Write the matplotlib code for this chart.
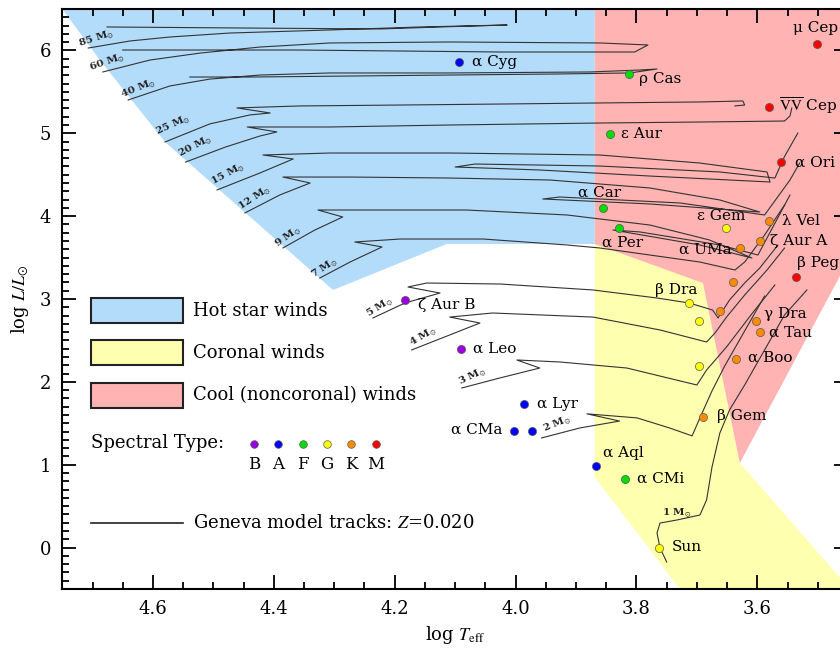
import matplotlib
matplotlib.use("Agg")
import matplotlib.pyplot as plt
from matplotlib.patches import Polygon, Rectangle
from matplotlib.lines import Line2D
from matplotlib.ticker import MultipleLocator, FormatStrFormatter

plt.rcParams['font.family'] = ['DejaVu Serif']
plt.rcParams['mathtext.fontset'] = 'stix'

# ---- wind regions: (log Teff, log L) polygon vertices
hot_T = [4.76, 4.688, 4.580, 4.302, 4.114, 3.869, 3.869]
hot_L = [6.60, 5.885, 4.895, 3.109, 3.664, 3.664, 6.60]
coronal_T = [3.869, 3.690, 3.629, 3.435, 3.718, 3.869]
coronal_L = [3.664, 3.193, 1.021, -0.60, -0.60, 0.852]
cool_T = [3.869, 3.869, 3.690, 3.629, 3.40, 3.40]
cool_L = [6.60, 3.664, 3.193, 1.021, 4.14, 6.60]

# ---- Geneva tracks (log Teff, log L)
track_mass = ["85", "60", "40", "25", "20", "15", "12", "9", "7", "5", "4", "3", "2", "1"]
t85_T = [4.707, 4.638, 4.572, 4.473, 4.307, 4.158, 4.014, 4.125, 4.224, 4.440, 4.676]
t85_L = [6.029, 6.114, 6.162, 6.210, 6.247, 6.283, 6.307, 6.283, 6.259, 6.270, 6.283]
t60_T = [4.683, 4.605, 4.522, 4.423, 4.307, 4.109, 3.861, 3.781, 3.803, 4.026, 4.191, 4.357, 4.522, 4.650]
t60_L = [5.740, 5.884, 5.968, 6.041, 6.090, 6.102, 6.090, 6.066, 5.981, 5.981, 5.993, 6.005, 6.005, 6.005]
t40_T = [4.641, 4.572, 4.506, 4.423, 4.307, 4.109, 3.877, 3.794, 3.766, 3.811, 3.927, 4.109, 4.274, 4.440, 4.539]
t40_L = [5.402, 5.571, 5.654, 5.703, 5.728, 5.728, 5.740, 5.764, 5.776, 5.728, 5.716, 5.703, 5.691, 5.679, 5.679]
t25_T = [4.580, 4.506, 4.440, 4.406, 4.461, 4.357, 4.191, 4.026, 3.861, 3.695, 3.624, 3.621, 3.637]
t25_L = [4.895, 5.113, 5.221, 5.245, 5.306, 5.330, 5.341, 5.353, 5.366, 5.378, 5.390, 5.341, 5.330]
t20_T = [4.546, 4.480, 4.423, 4.395, 4.444, 4.307, 4.109, 3.861, 3.695, 3.555, 3.546, 3.543]
t20_L = [4.653, 4.834, 4.967, 5.016, 5.076, 5.076, 5.100, 5.124, 5.136, 5.148, 5.209, 5.305]
t15_T = [4.494, 4.423, 4.368, 4.418, 4.307, 4.109, 3.861, 3.695, 3.584, 3.579, 3.778, 3.960,
         4.100, 4.067, 3.861, 3.662, 3.571, 3.555, 3.533]
t15_L = [4.316, 4.521, 4.690, 4.738, 4.762, 4.762, 4.738, 4.641, 4.533, 4.412, 4.484, 4.557,
         4.593, 4.629, 4.605, 4.533, 4.460, 4.720, 5.003]
t12_T = [4.448, 4.390, 4.340, 4.385, 4.274, 4.109, 3.943, 3.778, 3.662, 3.596, 3.778, 3.955,
         3.927, 3.728, 3.588, 3.546, 3.530]
t12_L = [4.038, 4.256, 4.400, 4.472, 4.472, 4.460, 4.436, 4.340, 4.195, 4.050, 4.147, 4.207,
         4.231, 4.159, 4.014, 4.436, 4.641]
t9_T = [4.385, 4.332, 4.286, 4.327, 4.246, 4.081, 3.915, 3.778, 3.679, 3.609, 3.695, 3.839,
        3.794, 3.662, 3.599, 3.546]
t9_L = [3.616, 3.833, 3.990, 4.074, 4.074, 4.074, 4.014, 3.893, 3.712, 3.495, 3.652, 3.833,
        3.809, 3.652, 3.531, 4.255]
t7_T = [4.324, 4.274, 4.221, 4.266, 4.191, 4.054, 3.915, 3.861, 3.778, 3.695, 3.637, 3.621, 3.588, 3.555]
t7_L = [3.253, 3.446, 3.628, 3.688, 3.724, 3.724, 3.652, 3.616, 3.531, 3.446, 3.350, 3.446, 3.772, 4.134]
t5_T = [4.236, 4.183, 4.125, 4.178, 4.147, 4.026, 3.872, 3.766, 3.713, 3.674, 3.665, 3.646,
        3.621, 3.596, 3.566]
t5_L = [2.771, 2.952, 3.072, 3.145, 3.193, 3.181, 3.109, 3.012, 2.952, 2.867, 2.771, 2.988,
        3.193, 3.374, 3.651]
t4_T = [4.172, 4.109, 4.059, 4.109, 4.038, 3.872, 3.761, 3.684, 3.670, 3.651, 3.621, 3.584, 3.555]
t4_L = [2.385, 2.566, 2.710, 2.782, 2.831, 2.782, 2.626, 2.481, 2.590, 2.782, 3.048, 3.350, 3.615]
t3_T = [4.089, 4.026, 3.960, 3.998, 3.927, 3.816, 3.700, 3.684, 3.651, 3.608, 3.571]
t3_L = [1.926, 2.047, 2.167, 2.264, 2.240, 2.167, 1.962, 2.143, 2.421, 2.831, 3.169]
t2_T = [3.957, 3.894, 3.828, 3.882, 3.799, 3.745, 3.708, 3.692, 3.675, 3.654, 3.621, 3.588]
t2_L = [1.323, 1.443, 1.527, 1.614, 1.565, 1.443, 1.348, 1.614, 1.891, 2.192, 2.614, 3.036]
t1_T = [3.750, 3.761, 3.766, 3.761, 3.733, 3.695, 3.684, 3.675, 3.662, 3.646, 3.621, 3.588, 3.555, 3.518]
t1_L = [-0.174, -0.005, 0.176, 0.296, 0.333, 0.393, 0.574, 0.972, 1.383, 1.661, 1.962, 2.385, 2.807, 3.109]

tracks_T = [t85_T, t60_T, t40_T, t25_T, t20_T, t15_T, t12_T, t9_T, t7_T, t5_T, t4_T, t3_T, t2_T, t1_T]
tracks_L = [t85_L, t60_L, t40_L, t25_L, t20_L, t15_L, t12_L, t9_L, t7_L, t5_L, t4_L, t3_L, t2_L, t1_L]

# ---- stars
star_names = ["μ Cep", "α Cyg", "ρ Cas", r"$\overline{\mathrm{VV}}$ Cep", "ε Aur", "α Ori",
              "α Car", "α Per", "ε Gem", "λ Vel", "ζ Aur A", "α UMa", "", "β Peg",
              "β Dra", "", "", "γ Dra", "α Tau", "", "α Boo", "β Gem",
              "ζ Aur B", "α Leo", "α Lyr", "α CMa", "", "α Aql", "α CMi", "Sun"]
star_logT = [3.502, 4.094, 3.813, 3.581, 3.844, 3.561,
             3.856, 3.829, 3.652, 3.581, 3.596, 3.629, 3.641, 3.536,
             3.713, 3.662, 3.697, 3.603, 3.595, 3.697, 3.636, 3.690,
             4.183, 4.091, 3.986, 4.003, 3.973, 3.867, 3.819, 3.762]
star_logL = [6.08, 5.86, 5.72, 5.32, 4.99, 4.65,
             4.10, 3.86, 3.86, 3.94, 3.70, 3.62, 3.21, 3.27,
             2.95, 2.86, 2.73, 2.73, 2.60, 2.19, 2.28, 1.58,
             2.99, 2.40, 1.73, 1.41, 1.41, 0.98, 0.83, 0.00]
star_type = ["M", "A", "F", "M", "F", "M",
             "F", "F", "G", "K", "K", "K", "K", "M",
             "G", "K", "G", "K", "K", "G", "K", "K",
             "B", "B", "A", "A", "A", "A", "F", "G"]

spec_types = ["B", "A", "F", "G", "K", "M"]
spec_colors = ["#9900dd", "#0000ff", "#00dd00", "#ffff00", "#ff8c00", "#ff0000"]
type_color = dict(zip(spec_types, spec_colors))

# label offsets in pixels (dx, dy) and alignment
label_off = [(-24, 16), (13, 0), (10, -5), (10, 1), (11, 0), (14, 0),
             (-25, 15), (-17, -15), (-29, 12), (13, 0), (10, 0), (-8, -2), (0, 0), (1, 14),
             (-34, 13), (0, 0), (0, 0), (8, 7), (9, -1), (0, 0), (12, 1), (14, 1),
             (13, -5), (12, 0), (13, 0), (-11, 1), (0, 0), (7, 13), (12, 0), (12, 1)]
right_aligned = {"α UMa", "α CMa"}

# mass label offsets (pixels from ZAMS point) and rotation
mass_off = [(8, 9), (4, 9), (10, 11), (8, 16), (10, 15), (11, 15), (10, 15), (5, 11),
            (5, 10), (7, 10), (12, 13), (11, 11), (16, 14), (10, 49)]
mass_rot = [18, 19, 22, 24, 27, 28, 33, 35, 33, 32, 30, 25, 22, 0]

fig = plt.figure(figsize=(8.4, 6.51), dpi=100)
ax = fig.add_axes([62.3 / 840, 62 / 651, 785.7 / 840, 580 / 651])

ax.add_patch(Polygon(list(zip(hot_T, hot_L)), closed=True, facecolor="#b3dbfa", edgecolor="none", zorder=0))
ax.add_patch(Polygon(list(zip(coronal_T, coronal_L)), closed=True, facecolor="#ffffb0", edgecolor="none", zorder=0))
ax.add_patch(Polygon(list(zip(cool_T, cool_L)), closed=True, facecolor="#ffb3b3", edgecolor="none", zorder=0))

for m, T, L, off, rot in zip(track_mass, tracks_T, tracks_L, mass_off, mass_rot):
    ax.plot(T, L, color="#333333", lw=0.8, zorder=2)
    ax.annotate(m + r" M$_{\odot}$", (T[0], L[0]), xytext=off, textcoords="offset pixels",
                fontsize=7.5, fontweight="bold", rotation=rot, ha="center", va="center",
                color="#222222", zorder=3)

for name, T, L, st, off in zip(star_names, star_logT, star_logL, star_type, label_off):
    ax.scatter(T, L, s=34, color=type_color[st], edgecolors="#555555", linewidths=0.5, zorder=4)
    if name:
        ax.annotate(name, (T, L), xytext=off, textcoords="offset pixels", fontsize=11,
                    ha="right" if name in right_aligned else "left", va="center", zorder=5)

# ---- legend drawn inside the axes
legend_labels = ["Hot star winds", "Coronal winds", "Cool (noncoronal) winds"]
legend_colors = ["#b3dbfa", "#ffffb0", "#ffb3b3"]
legend_y = [0.4586, 0.3862, 0.3121]
for lab, col, y0 in zip(legend_labels, legend_colors, legend_y):
    ax.add_patch(Rectangle((0.0365, y0), 0.1171, 0.0430, transform=ax.transAxes,
                           facecolor=col, edgecolor="#222222", lw=1.5, zorder=5))
    ax.text(0.1663, y0 + 0.0215, lab, transform=ax.transAxes, fontsize=13,
            va="center", ha="left", zorder=5)

ax.text(0.0365, 0.2517, "Spectral Type:", transform=ax.transAxes, fontsize=13, va="center", ha="left")
for i, (st, col) in enumerate(zip(spec_types, spec_colors)):
    x = 0.2440 + i * 0.0310
    ax.scatter(x, 0.2500, s=30, color=col, edgecolors="#555555", linewidths=0.5,
               transform=ax.transAxes, zorder=5)
    ax.text(x, 0.2155, st, transform=ax.transAxes, fontsize=12, ha="center", va="center")

ax.add_line(Line2D([0.0365, 0.1536], [0.1138, 0.1138], transform=ax.transAxes, color="#222222", lw=1.2))
ax.text(0.1663, 0.1138, r"Geneva model tracks: $Z$=0.020", transform=ax.transAxes,
        fontsize=13, va="center", ha="left")

ax.set_xlim(4.75, 3.45)
ax.set_ylim(-0.5, 6.5)
ax.xaxis.set_major_locator(MultipleLocator(0.2))
ax.xaxis.set_minor_locator(MultipleLocator(0.05))
ax.yaxis.set_major_locator(MultipleLocator(1))
ax.yaxis.set_minor_locator(MultipleLocator(0.1))
ax.xaxis.set_major_formatter(FormatStrFormatter("%.1f"))
ax.yaxis.set_major_formatter(FormatStrFormatter("%d"))
ax.tick_params(which="both", direction="in", top=True, right=True, width=1.3, labelsize=13)
ax.tick_params(which="major", length=10, pad=8)
ax.tick_params(which="minor", length=5)
for sp in ax.spines.values():
    sp.set_linewidth(1.5)

ax.set_xlabel(r"log $T_{\rm eff}$", fontsize=13, labelpad=4)
ax.set_ylabel(r"log $L/L_{\odot}$", fontsize=13, labelpad=6)

fig.savefig("out.png", dpi=100)
